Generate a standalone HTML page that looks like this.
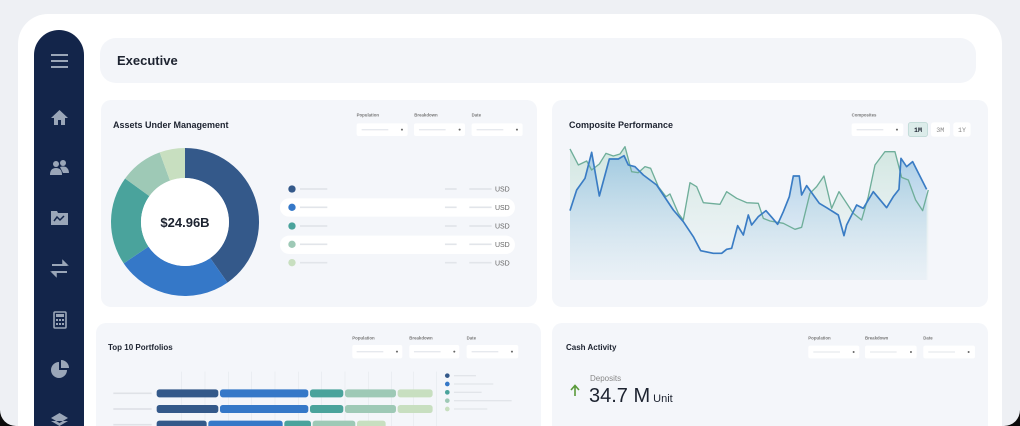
<!DOCTYPE html>
<html><head><meta charset="utf-8"><style>
html,body{margin:0;padding:0;width:1020px;height:426px;overflow:hidden;background:#000;}
svg{display:block;font-family:"Liberation Sans",sans-serif;}
</style></head><body>
<svg width="1020" height="426" viewBox="0 0 1020 426" xmlns="http://www.w3.org/2000/svg">
<defs>
<linearGradient id="gb" x1="0" y1="0" x2="0" y2="1"><stop offset="0" stop-color="#8fbfe0" stop-opacity="0.75"/><stop offset="1" stop-color="#dbe8f3" stop-opacity="0.3"/></linearGradient>
<linearGradient id="gg" x1="0" y1="0" x2="0" y2="1"><stop offset="0" stop-color="#b9dccf" stop-opacity="0.6"/><stop offset="1" stop-color="#e3eef0" stop-opacity="0.2"/></linearGradient>
</defs>
<rect width="1020" height="426" fill="#0b0b0b"/>
<rect x="0" y="-40" width="1020" height="466" rx="16" fill="#eef0f4"/>
<rect x="18" y="14" width="984" height="440" rx="30" fill="#ffffff"/>
<!-- sidebar -->
<rect x="34" y="30" width="50" height="420" rx="25" fill="#13254a"/>
<g fill="#9aa6b8" stroke="#9aa6b8">
<g stroke-width="2"><line x1="51" y1="55" x2="68" y2="55"/><line x1="51" y1="61" x2="68" y2="61"/><line x1="51" y1="67" x2="68" y2="67"/></g>
<path d="M51 118 L59.5 110 L68 118 L65 118 L65 125 L61 125 L61 120 L58 120 L58 125 L54 125 L54 118Z" stroke="none"/>
<g stroke="none"><circle cx="56" cy="164" r="3"/><path d="M50 175 Q50 168 56 168 Q62 168 62 175Z"/><circle cx="63" cy="163" r="3"/><path d="M60 167 Q63 166 66 167 Q69 169 69 173 L63 173Z"/></g>
<path d="M51 211 L57 211 L58 213 L68 213 L68 225 L51 225Z" stroke="none"/>
<path d="M54 221 L57 217 L60 220 L64 216" fill="none" stroke="#13254a" stroke-width="1.5"/>
<g stroke-width="2" fill="none"><line x1="52" y1="265" x2="67" y2="265"/><line x1="52" y1="272" x2="67" y2="272"/></g>
<path d="M63 261 L67 265 L63 265Z M56 276 L52 272 L56 272Z" stroke-width="1.5"/>
<rect x="54" y="312" width="12" height="16" rx="1" fill="none" stroke-width="1.6"/>
<rect x="56" y="314" width="8" height="3" stroke="none"/>
<g stroke="none"><rect x="56" y="319" width="2" height="2"/><rect x="59" y="319" width="2" height="2"/><rect x="62" y="319" width="2" height="2"/><rect x="56" y="323" width="2" height="2"/><rect x="59" y="323" width="2" height="2"/><rect x="62" y="323" width="2" height="2"/></g>
<path d="M59 362 A8 8 0 1 0 67 370 L59 370Z" stroke="none"/>
<path d="M61 360 A8 8 0 0 1 69 368 L61 368Z" stroke="none"/>
<path d="M51 418 L59.5 413 L68 418 L59.5 423Z M51 421 L59.5 426 L68 421" stroke="none"/>
</g>
<!-- header -->
<rect x="100" y="38" width="876" height="45" rx="16" fill="#f3f5f9"/>
<text x="117" y="65" font-size="13" font-weight="bold" fill="#1d2330">Executive</text>
<!-- cards -->
<rect x="101" y="100" width="436" height="207" rx="10" fill="#f4f6fa"/>
<rect x="552" y="100" width="436" height="207" rx="10" fill="#f4f6fa"/>
<rect x="96" y="323" width="445" height="120" rx="10" fill="#f4f6fa"/>
<rect x="552" y="323" width="436" height="120" rx="10" fill="#f4f6fa"/>
<!-- AUM -->
<text x="113" y="128" font-size="9" font-weight="bold" fill="#1d2330">Assets Under Management</text>
<g transform="translate(90,90) scale(0.3333)">
<g font-size="13" fill="#777" font-weight="bold"><text x="800" y="80">Population</text><text x="973" y="80">Breakdown</text><text x="1145" y="80">Date</text></g>
<g fill="#fff"><rect x="800" y="100" width="153" height="38" rx="6"/><rect x="972" y="100" width="153" height="38" rx="6"/><rect x="1145" y="100" width="153" height="38" rx="6"/></g>
<g stroke="#e6e9ee" stroke-width="4"><line x1="815" y1="119" x2="895" y2="119"/><line x1="987" y1="119" x2="1067" y2="119"/><line x1="1160" y1="119" x2="1240" y2="119"/></g>
<g fill="#666"><circle cx="936" cy="119" r="3"/><circle cx="1109" cy="119" r="3"/><circle cx="1281" cy="119" r="3"/></g>
<rect x="570" y="325" width="705" height="55" rx="27" fill="#fff"/>
<rect x="570" y="437" width="705" height="55" rx="27" fill="#fff"/>
<circle cx="606" cy="297" r="11" fill="#34598a"/><circle cx="606" cy="352" r="11" fill="#3578c8"/><circle cx="606" cy="408" r="11" fill="#4aa39c"/><circle cx="606" cy="463" r="11" fill="#9ec9b6"/><circle cx="606" cy="518" r="11" fill="#c8dfc0"/>
<g stroke="#e2e5ea" stroke-width="5">
<path d="M630 297H712M1065 297H1100M1138 297H1205M630 352H712M1065 352H1100M1138 352H1205M630 408H712M1065 408H1100M1138 408H1205M630 463H712M1065 463H1100M1138 463H1205M630 518H712M1065 518H1100M1138 518H1205"/></g>
<g font-size="21" fill="#666"><text x="1215" y="305">USD</text><text x="1215" y="360">USD</text><text x="1215" y="416">USD</text><text x="1215" y="471">USD</text><text x="1215" y="526">USD</text></g>
</g>
<path d="M185 148 A74 74 0 0 1 227.5 282.6 L210.2 258 A44 44 0 0 0 185 178Z" fill="#34598a"/>
<path d="M227.5 282.6 A74 74 0 0 1 123.7 263.4 L148.5 246.6 A44 44 0 0 0 210.2 258Z" fill="#3578c8"/>
<path d="M123.7 263.4 A74 74 0 0 1 125.1 178.5 L149.4 196.1 A44 44 0 0 0 148.5 246.6Z" fill="#4aa39c"/>
<path d="M125.1 178.5 A74 74 0 0 1 159.7 152.4 L170 180.6 A44 44 0 0 0 149.4 196.1Z" fill="#9ec9b6"/>
<path d="M159.7 152.4 A74 74 0 0 1 185 148 L185 178 A44 44 0 0 0 170 180.6Z" fill="#c8dfc0"/>
<circle cx="185" cy="222" r="44" fill="#fff"/>
<text x="185" y="227" font-size="13" font-weight="bold" fill="#1d2330" text-anchor="middle">$24.96B</text>
<!-- Composite -->
<text x="569" y="128" font-size="9" font-weight="bold" fill="#1d2330">Composite Performance</text>
<g transform="translate(550,90) scale(0.3333)">
<text x="905" y="80" font-size="13" fill="#777" font-weight="bold">Composites</text>
<rect x="905" y="100" width="155" height="38" rx="6" fill="#fff"/>
<line x1="920" y1="119" x2="1000" y2="119" stroke="#e6e9ee" stroke-width="4"/><circle cx="1041" cy="119" r="3" fill="#666"/>
<rect x="1075" y="97" width="58" height="43" rx="8" fill="#dcecea" stroke="#b7d4d0" stroke-width="2"/>
<rect x="1143" y="97" width="57" height="43" rx="8" fill="#fff"/>
<rect x="1210" y="97" width="52" height="43" rx="8" fill="#fff"/>
<g font-size="20" font-family="Liberation Mono,monospace" text-anchor="middle"><text x="1104" y="126" fill="#1d2330" font-weight="bold">1M</text><text x="1171" y="126" fill="#888">3M</text><text x="1236" y="126" fill="#888">1Y</text></g>
<path d="M60,177 85,225 110,213 125,240 148,222 168,190 190,198 210,192 225,170 245,245 265,248 285,230 302,235 325,290 348,320 360,312 385,370 400,390 420,278 440,290 460,338 510,343 530,305 560,325 590,338 625,340 640,385 660,393 700,400 735,418 755,412 780,310 800,290 822,258 845,355 867,305 910,370 935,390 955,320 975,225 1005,185 1035,185 1055,262 1075,270 1097,330 1118,362 1135,300 L1135,570 L60,570Z" fill="url(#gg)"/>
<path d="M60,362 80,300 105,265 125,187 148,318 178,207 205,207 222,197 235,225 255,230 280,255 320,285 340,315 370,360 400,395 430,440 452,482 490,490 515,490 530,478 545,475 563,407 580,435 595,375 605,405 625,380 648,362 668,385 683,403 700,365 718,320 730,258 748,258 755,315 770,287 790,315 808,340 830,353 865,375 882,437 890,405 905,375 920,345 940,355 970,305 1010,353 1030,320 1047,298 1053,205 1070,230 1088,215 1130,298 L1130,570 L60,570Z" fill="url(#gb)"/>
<path d="M60,177 85,225 110,213 125,240 148,222 168,190 190,198 210,192 225,170 245,245 265,248 285,230 302,235 325,290 348,320 360,312 385,370 400,390 420,278 440,290 460,338 510,343 530,305 560,325 590,338 625,340 640,385 660,393 700,400 735,418 755,412 780,310 800,290 822,258 845,355 867,305 910,370 935,390 955,320 975,225 1005,185 1035,185 1055,262 1075,270 1097,330 1118,362 1135,300" fill="none" stroke="#6fae9a" stroke-width="4" stroke-linejoin="round"/>
<path d="M60,362 80,300 105,265 125,187 148,318 178,207 205,207 222,197 235,225 255,230 280,255 320,285 340,315 370,360 400,395 430,440 452,482 490,490 515,490 530,478 545,475 563,407 580,435 595,375 605,405 625,380 648,362 668,385 683,403 700,365 718,320 730,258 748,258 755,315 770,287 790,315 808,340 830,353 865,375 882,437 890,405 905,375 920,345 940,355 970,305 1010,353 1030,320 1047,298 1053,205 1070,230 1088,215 1130,298" fill="none" stroke="#3a7cc4" stroke-width="5" stroke-linejoin="round"/>
</g>
<!-- Top 10 -->
<text x="108" y="350" font-size="8" font-weight="bold" fill="#1d2330">Top 10 Portfolios</text>
<g transform="translate(90,310) scale(0.3333)">
<g font-size="13" fill="#777" font-weight="bold"><text x="787" y="88">Population</text><text x="958" y="88">Breakdown</text><text x="1130" y="88">Date</text></g>
<g fill="#fff"><rect x="787" y="105" width="150" height="40" rx="6"/><rect x="958" y="105" width="150" height="40" rx="6"/><rect x="1130" y="105" width="155" height="40" rx="6"/></g>
<g stroke="#e6e9ee" stroke-width="4"><line x1="800" y1="125" x2="880" y2="125"/><line x1="972" y1="125" x2="1052" y2="125"/><line x1="1145" y1="125" x2="1225" y2="125"/></g>
<g fill="#666"><circle cx="921" cy="125" r="3"/><circle cx="1093" cy="125" r="3"/><circle cx="1266" cy="125" r="3"/></g>
<g stroke="#e6e9ee" stroke-width="2"><path d="M275 185V360M345 185V360M415 185V360M485 185V360M555 185V360M625 185V360M695 185V360M765 185V360M835 185V360M905 185V360M970 185V360M1040 185V360"/></g>
<g stroke="#dfe2e7" stroke-width="5"><path d="M70 250H185M70 297H185M70 344H185"/></g>
<g>
<rect x="200" y="238" width="185" height="24" rx="8" fill="#34598a"/><rect x="390" y="238" width="265" height="24" rx="8" fill="#3578c8"/><rect x="660" y="238" width="100" height="24" rx="8" fill="#4aa39c"/><rect x="765" y="238" width="153" height="24" rx="8" fill="#9ec9b6"/><rect x="923" y="238" width="105" height="24" rx="8" fill="#c8dfc0"/>
<rect x="200" y="285" width="185" height="24" rx="8" fill="#34598a"/><rect x="390" y="285" width="265" height="24" rx="8" fill="#3578c8"/><rect x="660" y="285" width="100" height="24" rx="8" fill="#4aa39c"/><rect x="765" y="285" width="153" height="24" rx="8" fill="#9ec9b6"/><rect x="923" y="285" width="105" height="24" rx="8" fill="#c8dfc0"/>
<rect x="200" y="332" width="150" height="24" rx="8" fill="#34598a"/><rect x="355" y="332" width="223" height="24" rx="8" fill="#3578c8"/><rect x="583" y="332" width="80" height="24" rx="8" fill="#4aa39c"/><rect x="668" y="332" width="128" height="24" rx="8" fill="#9ec9b6"/><rect x="801" y="332" width="86" height="24" rx="8" fill="#c8dfc0"/>
</g>
<circle cx="1072" cy="197" r="7" fill="#34598a"/><circle cx="1072" cy="222" r="7" fill="#3578c8"/><circle cx="1072" cy="247" r="7" fill="#4aa39c"/><circle cx="1072" cy="272" r="7" fill="#9ec9b6"/><circle cx="1072" cy="297" r="7" fill="#c8dfc0"/>
<g stroke="#e2e5ea" stroke-width="4"><path d="M1092 197H1158M1092 222H1210M1092 247H1175M1092 272H1265M1092 297H1192"/></g>
</g>
<!-- Cash -->
<text x="566" y="350" font-size="8" font-weight="bold" fill="#1d2330">Cash Activity</text>
<g transform="translate(550,310) scale(0.3333)">
<g font-size="13" fill="#777" font-weight="bold"><text x="775" y="88">Population</text><text x="945" y="88">Breakdown</text><text x="1120" y="88">Date</text></g>
<g fill="#fff"><rect x="775" y="107" width="153" height="38" rx="6"/><rect x="945" y="107" width="155" height="38" rx="6"/><rect x="1120" y="107" width="155" height="38" rx="6"/></g>
<g stroke="#e6e9ee" stroke-width="4"><line x1="790" y1="126" x2="870" y2="126"/><line x1="960" y1="126" x2="1040" y2="126"/><line x1="1135" y1="126" x2="1215" y2="126"/></g>
<g fill="#666"><circle cx="911" cy="126" r="3"/><circle cx="1083" cy="126" r="3"/><circle cx="1256" cy="126" r="3"/></g>
</g>
<text x="590" y="381" font-size="8" fill="#888">Deposits</text>
<path d="M575 396 V386 M571 390 L575 385.5 L579 390" stroke="#5a9a3a" stroke-width="1.6" fill="none"/>
<text x="589" y="402" font-size="20" fill="#1d2330">34.7 M<tspan font-size="11" dx="3">Unit</tspan></text>
</svg>
</body></html>
